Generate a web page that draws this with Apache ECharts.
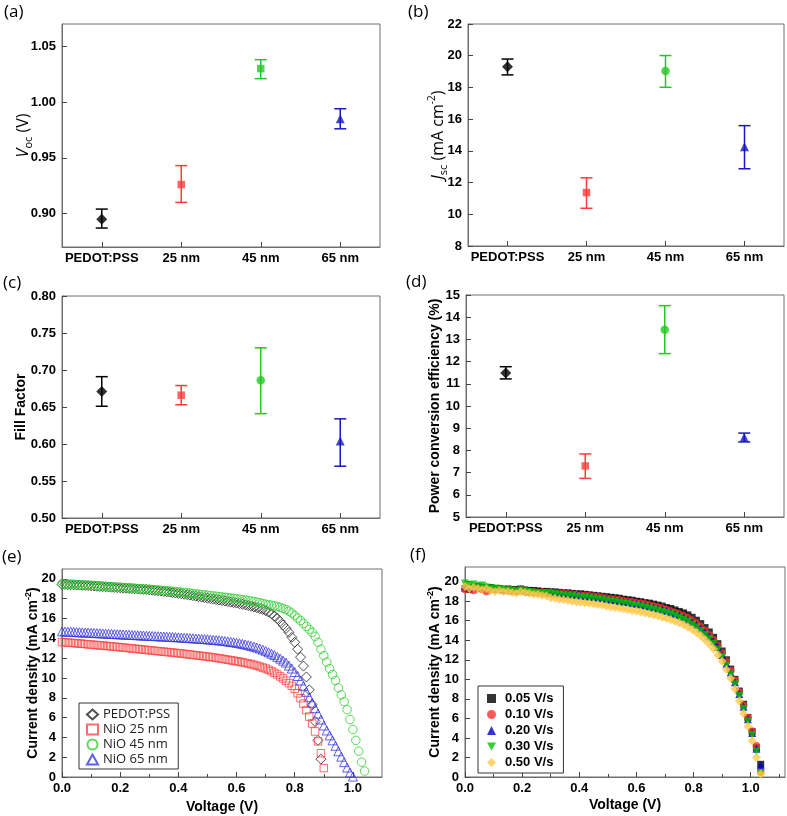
<!DOCTYPE html>
<html><head><meta charset="utf-8">
<script src="https://cdn.jsdelivr.net/npm/echarts@6/dist/echarts.min.js"></script>
<style>html,body{margin:0;padding:0;background:#fff}#c{width:787px;height:816px}</style>
</head><body><div id="c"></div>
<script>
// ---------- data ----------
const categories = ['PEDOT:PSS', '25 nm', '45 nm', '65 nm'];
const vocMean = [0.895, 0.926, 1.030, 0.985];
const vocLow  = [0.887, 0.910, 1.021, 0.976];
const vocHigh = [0.904, 0.943, 1.038, 0.994];
const jscMean = [19.30, 11.37, 19.03, 14.26];
const jscLow  = [18.79, 10.38, 18.01, 12.87];
const jscHigh = [19.79, 12.30, 20.01, 15.59];
const ffMean = [0.671, 0.666, 0.686, 0.604];
const ffLow  = [0.651, 0.653, 0.641, 0.570];
const ffHigh = [0.691, 0.679, 0.730, 0.634];
const pceMean = [11.49, 7.30, 13.44, 8.59];
const pceLow  = [11.22, 6.74, 12.36, 8.38];
const pceHigh = [11.77, 7.84, 14.52, 8.78];

const vocTicks = [0.90, 0.95, 1.00, 1.05];
const jscTicks = [8, 10, 12, 14, 16, 18, 20, 22];
const ffTicks = [0.50, 0.55, 0.60, 0.65, 0.70, 0.75, 0.80];
const pceTicks = [5, 6, 7, 8, 9, 10, 11, 12, 13, 14, 15];
const jTicks = [0, 2, 4, 6, 8, 10, 12, 14, 16, 18, 20];
const vTicks = [0.0, 0.2, 0.4, 0.6, 0.8, 1.0];
const vMinorTicks = [0.1, 0.3, 0.5, 0.7, 0.9, 1.1];

// (e) J-V curves
const voltE = [0.00,0.01,0.02,0.03,0.04,0.05,0.06,0.07,0.08,0.09,0.10,0.11,0.12,0.13,0.14,0.15,0.16,0.17,0.18,0.19,
0.20,0.21,0.22,0.23,0.24,0.25,0.26,0.27,0.28,0.29,0.30,0.31,0.32,0.33,0.34,0.35,0.36,0.37,0.38,0.39,
0.40,0.41,0.42,0.43,0.44,0.45,0.46,0.47,0.48,0.49,0.50,0.51,0.52,0.53,0.54,0.55,0.56,0.57,0.58,0.59,
0.60,0.61,0.62,0.63,0.64,0.65,0.66,0.67,0.68,0.69,0.70,0.71,0.72,0.73,0.74,0.75,0.76,0.77,0.78,0.79,
0.80,0.81,0.82,0.83,0.84,0.85,0.86,0.87,0.88,0.89,0.90,0.91,0.92,0.93,0.94,0.95,0.96,0.97,0.98,0.99,
1.00,1.01,1.02,1.03,1.04];
const jPedot = [19.45,19.44,19.42,19.41,19.4,19.38,19.37,19.35,19.34,19.32,
19.3,19.28,19.26,19.24,19.22,19.2,19.18,19.16,19.14,19.12,
19.1,19.08,19.06,19.04,19.02,19.0,18.98,18.96,18.94,18.92,
18.89,18.86,18.83,18.8,18.77,18.74,18.7,18.66,18.62,18.58,
18.54,18.5,18.45,18.41,18.36,18.31,18.26,18.21,18.16,18.11,
18.06,18.01,17.96,17.91,17.86,17.81,17.76,17.71,17.66,17.61,
17.56,17.5,17.44,17.38,17.31,17.24,17.17,17.09,17.0,16.91,
16.8,16.65,16.48,16.25,16.0,15.7,15.35,15.0,14.6,14.1,
13.6,12.9,12.1,11.2,10.1,8.8,7.3,5.6,3.7,1.8];
const jNiO25 = [13.62,13.6,13.57,13.55,13.52,13.5,13.47,13.45,13.42,13.39,
13.37,13.34,13.32,13.29,13.27,13.24,13.21,13.19,13.16,13.13,
13.1,13.07,13.04,13.01,12.98,12.95,12.92,12.89,12.86,12.83,
12.8,12.77,12.74,12.71,12.68,12.65,12.62,12.59,12.56,12.53,
12.5,12.47,12.43,12.4,12.36,12.33,12.29,12.26,12.22,12.19,
12.15,12.11,12.07,12.03,11.98,11.94,11.89,11.84,11.79,11.74,
11.69,11.64,11.58,11.52,11.46,11.39,11.32,11.24,11.15,11.05,
10.95,10.82,10.68,10.52,10.35,10.15,9.95,9.72,9.47,9.2,
8.9,8.45,7.95,7.4,6.75,6.1,5.4,4.6,3.6,2.4,0.9];
const jNiO45 = [19.5,19.49,19.47,19.46,19.45,19.43,19.42,19.4,19.39,19.37,
19.35,19.33,19.31,19.29,19.27,19.25,19.23,19.21,19.19,19.17,
19.15,19.13,19.11,19.09,19.07,19.05,19.03,19.01,18.99,18.97,
18.95,18.93,18.9,18.88,18.85,18.83,18.8,18.78,18.75,18.73,
18.7,18.67,18.63,18.6,18.56,18.53,18.49,18.46,18.42,18.39,
18.35,18.32,18.28,18.25,18.21,18.18,18.14,18.11,18.07,18.04,
18.0,17.96,17.91,17.87,17.82,17.77,17.71,17.65,17.59,17.52,
17.45,17.4,17.34,17.28,17.21,17.13,17.03,16.9,16.75,16.55,
16.3,16.05,15.8,15.5,15.2,14.9,14.6,14.2,13.6,12.9,
12.25,11.6,10.95,10.35,9.75,9.0,8.3,7.6,6.8,5.8,
4.8,3.7,2.6,1.5,0.6];
const jNiO65 = [14.7,14.69,14.67,14.66,14.64,14.63,14.61,14.6,14.58,14.57,
14.55,14.54,14.52,14.51,14.49,14.48,14.46,14.45,14.43,14.42,
14.4,14.39,14.37,14.36,14.34,14.33,14.31,14.3,14.28,14.27,
14.25,14.24,14.22,14.21,14.19,14.18,14.16,14.15,14.13,14.12,
14.1,14.08,14.06,14.04,14.02,14.0,13.98,13.96,13.94,13.92,
13.9,13.87,13.85,13.82,13.79,13.76,13.72,13.68,13.64,13.6,
13.55,13.5,13.44,13.38,13.31,13.24,13.16,13.07,12.97,12.86,
12.74,12.6,12.45,12.3,12.13,11.95,11.75,11.55,11.25,10.95,
10.6,10.2,9.75,9.2,8.6,8.05,7.5,6.95,6.4,5.8,
5.2,4.7,4.2,3.7,3.15,2.6,2.05,1.5,0.95,0.45,
0.05];

// (f) J-V curves at different scan rates
const voltF = [0,0.015,0.03,0.045,0.06,0.075,0.09,0.105,0.12,0.135,0.15,0.165,0.18,0.195,0.21,0.225,0.24,0.255,0.27,0.285,
0.3,0.315,0.33,0.345,0.36,0.375,0.39,0.405,0.42,0.435,0.45,0.465,0.48,0.495,0.51,0.525,0.54,0.555,0.57,0.585,
0.6,0.615,0.63,0.645,0.66,0.675,0.69,0.705,0.72,0.735,0.75,0.765,0.78,0.795,0.81,0.825,0.84,0.855,0.87,0.885,
0.9,0.915,0.93,0.945,0.96,0.975,0.99,1.005,1.02,1.035];
const j005 = [19.3,19.2,19.4,19.5,19.4,19.3,19.4,19.3,19.3,19.2,
19.25,19.2,19.2,19.25,19.15,19.1,19.1,19.05,19.0,19.0,
18.95,18.95,18.9,18.85,18.85,18.8,18.75,18.75,18.7,18.65,
18.6,18.55,18.5,18.45,18.4,18.35,18.3,18.2,18.15,18.1,
18.0,17.95,17.85,17.8,17.7,17.6,17.5,17.35,17.25,17.1,
16.95,16.8,16.6,16.35,16.05,15.7,15.3,14.85,14.3,13.65,
12.9,12.0,11.05,10.0,8.8,7.45,6.1,4.65,3.0,1.3];
const j010 = [19.2,19.3,19.1,19.3,19.2,19.0,19.2,19.2,19.3,19.1,
19.2,19.1,19.1,19.2,19.1,19.0,19.0,18.9,18.95,18.9,
18.9,18.85,18.85,18.75,18.75,18.7,18.65,18.6,18.6,18.55,
18.5,18.45,18.4,18.3,18.25,18.2,18.15,18.05,18.0,17.95,
17.85,17.8,17.7,17.6,17.5,17.4,17.3,17.15,17.0,16.85,
16.7,16.5,16.3,16.05,15.75,15.4,15.0,14.55,14.05,13.45,
12.7,11.85,10.9,9.9,8.7,7.35,6.1,4.7,3.2,0.5];
const j020 = [19.6,19.4,19.5,19.6,19.4,19.5,19.4,19.3,19.3,19.2,
19.2,19.1,19.1,19.2,19.1,19.0,19.0,18.95,18.9,18.9,
18.85,18.8,18.8,18.7,18.7,18.65,18.6,18.55,18.5,18.45,
18.4,18.35,18.3,18.2,18.15,18.1,18.0,17.95,17.9,17.8,
17.75,17.65,17.55,17.45,17.35,17.25,17.15,17.0,16.85,16.7,
16.55,16.35,16.1,15.85,15.55,15.2,14.8,14.4,13.9,13.3,
12.5,11.6,10.7,9.7,8.5,7.2,5.9,4.5,2.9,1.2];
const j030 = [19.8,19.6,19.7,19.5,19.6,19.4,19.3,19.3,19.2,19.2,
19.1,19.1,19.0,19.1,19.0,18.95,18.9,18.85,18.8,18.8,
18.75,18.7,18.65,18.6,18.55,18.5,18.45,18.4,18.35,18.3,
18.25,18.2,18.15,18.05,18.0,17.95,17.85,17.8,17.7,17.6,
17.55,17.45,17.35,17.25,17.15,17.05,16.9,16.8,16.65,16.5,
16.3,16.1,15.9,15.6,15.3,14.95,14.55,14.15,13.65,13.05,
12.3,11.45,10.5,9.5,8.3,7.0,5.7,4.3,2.6,0.4];
const j050 = [19.5,19.3,19.4,19.3,19.2,19.3,19.1,19.0,19.1,19.0,
19.0,18.9,18.8,19.0,18.9,18.8,18.7,18.7,18.6,18.55,
18.35,18.3,18.2,18.15,18.1,18.0,17.95,17.9,17.85,17.8,
17.75,17.65,17.6,17.5,17.4,17.35,17.3,17.2,17.15,17.05,
17.0,16.9,16.8,16.7,16.6,16.5,16.35,16.25,16.1,15.95,
15.8,15.6,15.35,15.1,14.8,14.45,14.05,13.6,13.1,12.5,
11.85,11.0,10.1,9.0,7.8,6.5,5.2,3.7,2.0,0.3];

// ---------- styles ----------
const FONT = 'Liberation Sans';
const FONT2 = 'Open Sans';
const frame = '#6e6e6e';
const tickColor = '#444';
const catColors = ['#000000', '#ff3b3b', '#20c820', '#1818c0'];
const symA = ['diamond', 'rect', 'rect', 'triangle'];
const symB = ['diamond', 'rect', 'circle', 'triangle'];
const sizeOf = {diamond: 11, rect: 7.5, circle: 8.5, triangle: 9};

const grids = [
  {left: 62, top: 24, width: 318, height: 223},
  {left: 468, top: 24, width: 316, height: 222},
  {left: 62, top: 296, width: 318, height: 222},
  {left: 466, top: 295, width: 318, height: 222},
  {left: 62, top: 569, width: 320, height: 209},
  {left: 465, top: 567, width: 320, height: 210}
].map(g => Object.assign({show: true, borderColor: frame, borderWidth: 1, backgroundColor: 'transparent'}, g));

const labelStyle = {color: '#000', fontFamily: FONT, fontWeight: 'bold', fontSize: 13};

function catX(gi) {
  return {type: 'category', gridIndex: gi, data: categories, boundaryGap: true,
    axisLine: {show: true, lineStyle: {color: frame}},
    axisTick: {show: true, alignWithLabel: true, inside: true, length: 5, lineStyle: {color: tickColor}},
    axisLabel: Object.assign({margin: 5, interval: 0, hideOverlap: false}, labelStyle), splitLine: {show: false}};
}
function valY(gi, min, max, ticks, dec, name, nameGap, nameTextStyle) {
  return {type: 'value', gridIndex: gi, min: min, max: max,
    axisLine: {show: true, lineStyle: {color: frame}},
    axisTick: {show: true, inside: true, length: 5, customValues: ticks, lineStyle: {color: tickColor}},
    axisLabel: Object.assign({customValues: ticks, margin: 6, formatter: v => v.toFixed(dec)}, labelStyle),
    splitLine: {show: false}, name: name, nameLocation: 'middle', nameGap: nameGap, nameMoveOverlap: false,
    nameTextStyle: nameTextStyle};
}
function voltX(gi, max, nameGap) {
  return {type: 'value', gridIndex: gi, min: 0, max: max, position: 'bottom',
    axisLine: {show: true, lineStyle: {color: frame}},
    axisTick: {show: true, inside: true, length: 5, customValues: vTicks, lineStyle: {color: tickColor}},
    axisLabel: Object.assign({customValues: vTicks, margin: 5, formatter: v => v.toFixed(1)}, labelStyle),
    splitLine: {show: false}, name: 'Voltage (V)', nameLocation: 'middle', nameGap: nameGap, nameMoveOverlap: false,
    nameTextStyle: {color: '#000', fontFamily: FONT, fontWeight: 'bold', fontSize: 14, lineHeight: 16}};
}
function minorX(gi, max) {
  return {type: 'value', gridIndex: gi, min: 0, max: max, position: 'bottom', offset: 0,
    axisLine: {show: false}, axisLabel: {show: false}, splitLine: {show: false},
    axisTick: {show: true, inside: true, length: 3, customValues: vMinorTicks.filter(v => v < max), lineStyle: {color: tickColor}}};
}

const richSub = {
  i: {fontFamily: FONT2, fontSize: 16, fontStyle: 'italic', lineHeight: 22, color: '#000'},
  s: {fontFamily: FONT2, fontSize: 11, lineHeight: 11, verticalAlign: 'bottom', color: '#000'},
  n: {fontFamily: FONT2, fontSize: 16, lineHeight: 22, color: '#000'},
  p: {fontFamily: FONT2, fontSize: 10, lineHeight: 10, verticalAlign: 'top', color: '#000'}
};
const boldName = {color: '#000', fontFamily: FONT, fontWeight: 'bold', fontSize: 14, lineHeight: 18,
  rich: {p: {fontFamily: FONT, fontWeight: 'bold', fontSize: 9, lineHeight: 9, verticalAlign: 'top', color: '#000'}}};

function errRender(params, api) {
  const x = api.value(0), lo = api.value(1), hi = api.value(2);
  const p1 = api.coord([x, lo]), p2 = api.coord([x, hi]);
  const w = 6;
  const style = {stroke: catColors[params.dataIndex], lineWidth: 1.5, fill: null};
  return {type: 'group', children: [
    {type: 'line', shape: {x1: p1[0], y1: p1[1], x2: p2[0], y2: p2[1]}, style: style},
    {type: 'line', shape: {x1: p1[0] - w, y1: p1[1], x2: p1[0] + w, y2: p1[1]}, style: style},
    {type: 'line', shape: {x1: p2[0] - w, y1: p2[1], x2: p2[0] + w, y2: p2[1]}, style: style}
  ]};
}
function errSeries(gi, lo, hi) {
  return {type: 'custom', xAxisIndex: gi, yAxisIndex: gi, renderItem: errRender, silent: true,
    data: categories.map((c, i) => [i, lo[i], hi[i]]), z: 2};
}
function meanSeries(gi, mean, syms) {
  return {type: 'scatter', xAxisIndex: gi, yAxisIndex: gi, z: 3,
    data: categories.map((c, i) => ({value: [i, mean[i]], symbol: syms[i], symbolSize: sizeOf[syms[i]],
      itemStyle: {color: catColors[i]}}))};
}
function pair(xs, ys) { return ys.map((y, i) => [xs[i], y]); }
function openSeries(name, ys, symbol, size, color) {
  return {type: 'scatter', name: name, xAxisIndex: 4, yAxisIndex: 4, data: pair(voltE, ys),
    symbol: symbol, symbolSize: size,
    itemStyle: {color: 'rgba(255,255,255,0)', borderColor: color, borderWidth: 1}};
}
function filledSeries(name, ys, symbol, size, color, rot) {
  return {type: 'scatter', name: name, xAxisIndex: 5, yAxisIndex: 5, data: pair(voltF, ys),
    symbol: symbol, symbolSize: size, symbolRotate: rot || 0, itemStyle: {color: color}};
}

const letters = [['(a)', 4, 12], ['(b)', 408, 12], ['(c)', 3, 283], ['(d)', 406, 282], ['(e)', 2, 557], ['(f)', 410, 555]];

const option = {
  animation: false,
  backgroundColor: '#fff',
  grid: grids,
  xAxis: [catX(0), catX(1), catX(2), catX(3), voltX(4, 1.1, 22), voltX(5, 1.12, 20), minorX(4, 1.1), minorX(5, 1.12)],
  yAxis: [
    valY(0, 0.87, 1.07, vocTicks, 2, '{i|V}{s|oc}{n| (V)}', 28, {rich: richSub, lineHeight: 22}),
    valY(1, 8, 22, jscTicks, 0, '{i|J}{s|sc}{n| (mA cm}{p|-2}{n|)}', 19, {rich: richSub, lineHeight: 22}),
    valY(2, 0.5, 0.8, ffTicks, 2, 'Fill Factor', 32, boldName),
    valY(3, 5, 15, pceTicks, 0, 'Power conversion efficiency (%)', 22, boldName),
    valY(4, 0, 21, jTicks, 0, 'Current density (mA cm{p|-2})', 20, boldName),
    valY(5, 0, 21.5, jTicks, 0, 'Current density (mA cm{p|-2})', 21, boldName)
  ],
  legend: [
    {data: ['PEDOT:PSS', 'NiO 25 nm', 'NiO 45 nm', 'NiO 65 nm'], orient: 'vertical', left: 79, top: 703,
      padding: [5, 8, 3, 7], itemGap: 2, itemWidth: 11, itemHeight: 10,
      borderColor: '#333', borderWidth: 1, borderRadius: 0, backgroundColor: '#fff',
      textStyle: {fontFamily: FONT2, fontSize: 13, color: '#222', padding: [0, 0, 0, 0]}},
    {data: [
        {name: '0.05 V/s'}, {name: '0.10 V/s'}, {name: '0.20 V/s'},
        {name: '0.30 V/s', icon: 'path://M0,0 L10,0 L5,9 Z'}, {name: '0.50 V/s'}],
      orient: 'vertical', left: 478, top: 686,
      padding: [6, 10, 4, 9], itemGap: 3, itemWidth: 9, itemHeight: 9,
      borderColor: '#333', borderWidth: 1, borderRadius: 0, backgroundColor: '#fff',
      textStyle: {fontFamily: FONT, fontWeight: 'bold', fontSize: 13, color: '#000', padding: [0, 0, 0, 4]}}
  ],
  graphic: letters.map(l => ({type: 'text', x: l[1], y: l[2],
    style: {text: l[0], fontFamily: FONT2, fontSize: 17, fill: '#000', textVerticalAlign: 'middle'}})),
  series: [
    errSeries(0, vocLow, vocHigh), meanSeries(0, vocMean, symA),
    errSeries(1, jscLow, jscHigh), meanSeries(1, jscMean, symB),
    errSeries(2, ffLow, ffHigh), meanSeries(2, ffMean, symB),
    errSeries(3, pceLow, pceHigh), meanSeries(3, pceMean, symB),
    openSeries('PEDOT:PSS', jPedot, 'diamond', 10, '#222222'),
    openSeries('NiO 25 nm', jNiO25, 'rect', 7.5, '#ff4545'),
    openSeries('NiO 45 nm', jNiO45, 'circle', 8.5, '#2fd02f'),
    openSeries('NiO 65 nm', jNiO65, 'triangle', 9, '#3838e0'),
    filledSeries('0.05 V/s', j005, 'rect', 7, '#000000'),
    filledSeries('0.10 V/s', j010, 'circle', 7.5, '#ff3030'),
    filledSeries('0.20 V/s', j020, 'triangle', 8, '#0000c8'),
    filledSeries('0.30 V/s', j030, 'triangle', 8, '#00c400', 180),
    filledSeries('0.50 V/s', j050, 'diamond', 9, '#ffc94a')
  ]
};
const chart = echarts.init(document.getElementById('c'));
chart.setOption(option);
</script>
</body></html>
